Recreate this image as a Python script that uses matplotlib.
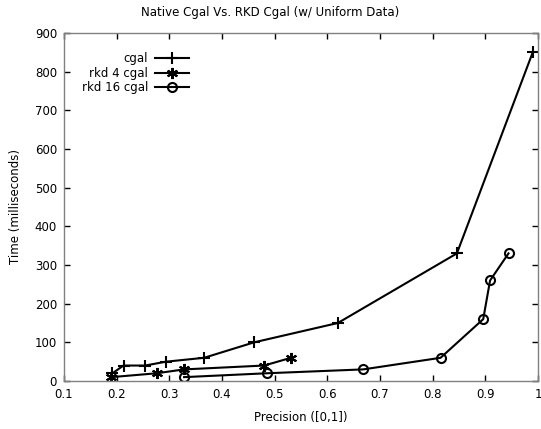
import numpy as np
import matplotlib
matplotlib.use('Agg')
import matplotlib.pyplot as plt

# precision vs. time (ms) for each implementation
cgal_x = [0.192, 0.213, 0.254, 0.294, 0.366, 0.461, 0.62, 0.846, 0.99]
cgal_y = [20, 40, 40, 50, 60, 100, 150, 330, 850]
rkd4_x = [0.19, 0.276, 0.328, 0.48, 0.531]
rkd4_y = [10, 20, 30, 40, 60]
rkd16_x = [0.328, 0.485, 0.668, 0.815, 0.896, 0.909, 0.944]
rkd16_y = [10, 20, 30, 60, 160, 260, 330]

xticks = [0.1, 0.2, 0.3, 0.4, 0.5, 0.6, 0.7, 0.8, 0.9, 1.0]
xticklabels = ['0.1', '0.2', '0.3', '0.4', '0.5', '0.6', '0.7', '0.8', '0.9', '1']
yticks = list(range(0, 1000, 100))

plt.rcParams['font.family'] = ['DejaVu Sans']
fig = plt.figure(figsize=(5.41, 4.29), dpi=100)
ax = fig.add_axes([64/541, 48/429, 474/541, 348/429])

ax.plot(cgal_x, cgal_y, color='black', lw=1.5, marker='+', ms=8, mew=1.5, label='cgal')
ax.plot(rkd4_x, rkd4_y, color='black', lw=1.5, marker=(6, 2, 0), ms=8, mew=1.5, label='rkd 4 cgal')
ax.plot(rkd16_x, rkd16_y, color='black', lw=1.5, marker='o', ms=6.5, mew=1.5,
        mfc='none', label='rkd 16 cgal')

ax.set_xlim(0.1, 1.0)
ax.set_ylim(0, 900)
ax.set_xticks(xticks)
ax.set_xticklabels(xticklabels)
ax.set_yticks(yticks)
ax.tick_params(direction='in', top=True, right=True, labelsize=8.5, length=4.5, width=1, color='black', pad=5)
for s in ax.spines.values():
  s.set_color('#808080')
  s.set_linewidth(1)

ax.set_xlabel('Precision ([0,1])', fontsize=8.5, labelpad=7)
ax.set_ylabel('Time (milliseconds)', fontsize=8.5, labelpad=9)
fig.suptitle('Native Cgal Vs. RKD Cgal (w/ Uniform Data)', fontsize=8.5, y=0.985)

leg = ax.legend(loc='upper left', bbox_to_anchor=(0.015, 0.975), frameon=False, markerfirst=False,
                fontsize=8.5, handlelength=2.9, handletextpad=0.6, labelspacing=0.12)
for t in leg.get_texts():
  t.set_ha('right')

fig.savefig('out.png', dpi=100)
